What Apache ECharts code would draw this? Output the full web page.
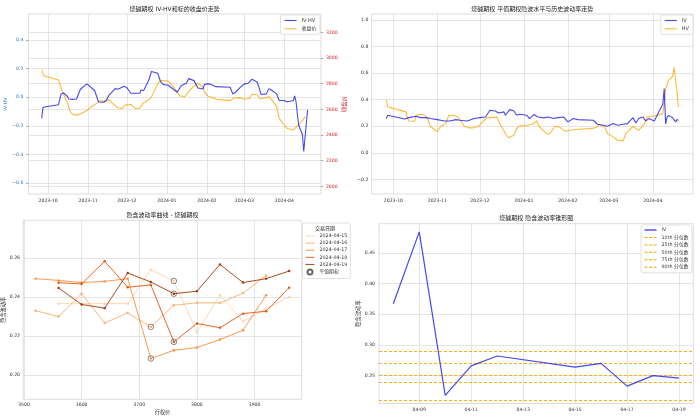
<!DOCTYPE html>
<html><head><meta charset="utf-8">
<script src="https://cdn.jsdelivr.net/npm/echarts@6/dist/echarts.min.js"></script>
<style>html,body{margin:0;padding:0;background:#fff}#c{width:700px;height:419px}</style>
</head><body><div id="c"></div>
<script>
// ---------- data ----------
const monthTicks = ['2023-10','2023-11','2023-12','2024-01','2024-02','2024-03','2024-04'];

const ivhvDates = ['2023-09-26','2023-09-27','2023-09-28','2023-10-09','2023-10-11','2023-10-13','2023-10-16','2023-10-17','2023-10-20','2023-10-23','2023-10-26','2023-10-31','2023-11-06','2023-11-09','2023-11-13','2023-11-15','2023-11-17','2023-11-22','2023-11-24','2023-11-29','2023-12-01','2023-12-04','2023-12-07','2023-12-11','2023-12-12','2023-12-14','2023-12-18','2023-12-20','2023-12-25','2023-12-27','2023-12-29','2024-01-02','2024-01-05','2024-01-09','2024-01-12','2024-01-16','2024-01-18','2024-01-22','2024-01-25','2024-01-29','2024-01-30','2024-02-02','2024-02-05','2024-02-08','2024-02-19','2024-02-21','2024-02-23','2024-02-27','2024-03-01','2024-03-04','2024-03-07','2024-03-11','2024-03-14','2024-03-18','2024-03-20','2024-03-22','2024-03-26','2024-03-28','2024-04-01','2024-04-03','2024-04-08','2024-04-09','2024-04-10','2024-04-12','2024-04-15','2024-04-16','2024-04-19'];
const ivhvValues = [-0.147,-0.07,-0.065,-0.053,0.023,0.030,0.005,-0.012,-0.015,-0.012,0.056,0.093,0.047,-0.033,-0.035,-0.023,0.012,0.060,0.056,0.077,0.067,0.028,0.028,0.028,0.050,0.047,0.120,0.180,0.167,0.110,0.090,0.084,0.063,0.035,0.080,0.098,0.130,0.116,0.065,0.058,0.088,0.095,0.086,0.074,0.070,0.023,0.033,0.070,0.093,0.098,0.126,0.105,0.019,0.023,0.060,0.050,0.023,-0.023,-0.023,-0.033,-0.023,0.010,-0.030,-0.193,-0.263,-0.380,-0.088];

const closeDates = ['2023-09-26','2023-09-27','2023-09-28','2023-10-09','2023-10-10','2023-10-12','2023-10-13','2023-10-16','2023-10-18','2023-10-20','2023-10-24','2023-10-27','2023-10-31','2023-11-03','2023-11-08','2023-11-10','2023-11-14','2023-11-17','2023-11-20','2023-11-24','2023-11-27','2023-11-30','2023-12-04','2023-12-06','2023-12-08','2023-12-11','2023-12-14','2023-12-18','2023-12-20','2023-12-22','2023-12-26','2023-12-28','2024-01-02','2024-01-04','2024-01-08','2024-01-11','2024-01-15','2024-01-19','2024-01-22','2024-01-25','2024-01-29','2024-01-30','2024-02-02','2024-02-05','2024-02-08','2024-02-19','2024-02-22','2024-02-27','2024-03-01','2024-03-05','2024-03-07','2024-03-11','2024-03-13','2024-03-18','2024-03-20','2024-03-22','2024-03-26','2024-03-28','2024-04-01','2024-04-03','2024-04-08','2024-04-09','2024-04-11','2024-04-15','2024-04-17'];
const closeValues = [2910,2880,2860,2829,2797,2738,2717,2650,2585,2560,2555,2569,2590,2616,2650,2668,2662,2676,2645,2612,2606,2635,2640,2620,2605,2610,2652,2675,2695,2740,2816,2825,2820,2800,2750,2705,2700,2751,2782,2803,2772,2738,2699,2694,2678,2668,2688,2691,2678,2686,2717,2714,2683,2691,2699,2678,2621,2530,2478,2452,2439,2426,2470,2512,2543];

const ivDates = ['2023-09-26','2023-09-27','2023-09-28','2023-10-09','2023-10-10','2023-10-12','2023-10-17','2023-10-20','2023-10-24','2023-10-27','2023-11-01','2023-11-06','2023-11-10','2023-11-14','2023-11-17','2023-11-22','2023-11-27','2023-12-01','2023-12-05','2023-12-08','2023-12-12','2023-12-14','2023-12-18','2023-12-19','2023-12-22','2023-12-25','2023-12-27','2023-12-29','2024-01-03','2024-01-05','2024-01-08','2024-01-11','2024-01-15','2024-01-18','2024-01-22','2024-01-25','2024-01-29','2024-02-01','2024-02-05','2024-02-08','2024-02-19','2024-02-20','2024-02-22','2024-02-26','2024-02-29','2024-03-04','2024-03-07','2024-03-11','2024-03-14','2024-03-18','2024-03-20','2024-03-22','2024-03-25','2024-03-27','2024-03-29','2024-04-02','2024-04-03','2024-04-08','2024-04-09','2024-04-10','2024-04-11','2024-04-12','2024-04-15','2024-04-16','2024-04-17','2024-04-18','2024-04-19'];
const ivValues = [0.258,0.283,0.283,0.255,0.250,0.265,0.275,0.265,0.265,0.258,0.250,0.240,0.240,0.250,0.245,0.240,0.258,0.265,0.270,0.320,0.315,0.300,0.308,0.283,0.325,0.315,0.283,0.290,0.283,0.258,0.288,0.270,0.263,0.270,0.258,0.265,0.270,0.233,0.258,0.250,0.245,0.233,0.215,0.208,0.200,0.220,0.208,0.215,0.220,0.265,0.225,0.258,0.270,0.240,0.258,0.240,0.233,0.367,0.484,0.218,0.266,0.282,0.264,0.270,0.233,0.250,0.246];

const hvDates = ['2023-09-26','2023-09-27','2023-09-28','2023-10-10','2023-10-11','2023-10-12','2023-10-16','2023-10-17','2023-10-20','2023-10-23','2023-10-25','2023-10-27','2023-11-01','2023-11-03','2023-11-07','2023-11-09','2023-11-13','2023-11-16','2023-11-20','2023-11-23','2023-11-27','2023-11-30','2023-12-04','2023-12-06','2023-12-08','2023-12-13','2023-12-15','2023-12-19','2023-12-21','2023-12-25','2023-12-27','2023-12-29','2024-01-03','2024-01-08','2024-01-10','2024-01-12','2024-01-17','2024-01-19','2024-01-23','2024-01-26','2024-01-30','2024-02-02','2024-02-08','2024-02-19','2024-02-21','2024-02-23','2024-02-27','2024-02-29','2024-03-04','2024-03-07','2024-03-11','2024-03-13','2024-03-18','2024-03-20','2024-03-22','2024-03-26','2024-03-28','2024-04-01','2024-04-03','2024-04-08','2024-04-09','2024-04-10','2024-04-11','2024-04-12','2024-04-15','2024-04-16','2024-04-17','2024-04-18','2024-04-19'];
const hvValues = [0.400,0.345,0.333,0.308,0.258,0.240,0.238,0.283,0.290,0.283,0.258,0.200,0.158,0.195,0.220,0.283,0.283,0.265,0.200,0.188,0.190,0.200,0.245,0.263,0.265,0.270,0.220,0.145,0.113,0.133,0.183,0.203,0.205,0.220,0.240,0.195,0.145,0.140,0.200,0.195,0.163,0.170,0.175,0.186,0.190,0.213,0.195,0.145,0.120,0.095,0.090,0.145,0.200,0.183,0.170,0.215,0.270,0.275,0.280,0.295,0.380,0.480,0.510,0.545,0.575,0.645,0.550,0.460,0.345];

const strikes = [3520,3560,3600,3640,3680,3720,3760,3800,3840,3880,3920,3960];
const smileDates = ['2024-04-15','2024-04-16','2024-04-17','2024-04-18','2024-04-19'];
const smile0415 = [null,0.2366,0.2366,0.2366,0.2366,0.2540,0.2482,0.2220,0.2410,0.2275,0.2340,0.2400];
const smile0416 = [0.2330,0.2300,0.2417,0.2267,0.2318,0.2247,0.2358,0.2370,0.2370,0.2420,0.2510,null];
const smile0417 = [0.2494,0.2485,0.2474,0.2480,0.2494,0.2085,0.2127,0.2141,0.2182,0.2230,0.2409,null];
const smile0418 = [null,0.2473,0.2467,0.2583,0.2450,0.2462,0.2170,0.2264,0.2243,0.2315,0.2327,0.2448];
const smile0419 = [null,0.2446,0.2362,0.2343,0.2523,0.2477,0.2417,0.2430,0.2567,0.2474,0.2494,0.2533];
const atmStrikes = [3760,3720,3720,3760,3760];
const atmIV = [0.2482,0.2247,0.2085,0.2170,0.2417];

const coneDates = ['04-08','04-09','04-10','04-11','04-12','04-15','04-16','04-17','04-18','04-19'];
const coneIV = [0.367,0.484,0.218,0.266,0.282,0.264,0.270,0.233,0.250,0.246];
const quantileNames = ['10th 分位数','25th 分位数','50th 分位数','75th 分位数','90th 分位数'];
const quantileValues = [0.2136,0.2380,0.2516,0.2700,0.2870];

const coneTicks = ['04-09','04-11','04-13','04-15','04-17','04-19'];
const tlLeftTicks = [-0.6,-0.4,-0.2,0.0,0.2,0.4];
const tlRightTicks = [2000,2200,2400,2600,2800,3000,3200];
const trTicks = [-0.2,0.0,0.2,0.4,0.6,0.8,1.0];
const blXTicks = [3500,3600,3700,3800,3900];
const blYTicks = [0.20,0.22,0.24,0.26];
const brYTicks = [0.25,0.30,0.35,0.40,0.45];

// ---------- helpers ----------
function d(s){const p=s.split('-').map(Number);return new Date(p[0],p[1]-1,p[2]||1).getTime();}
function md(s){return Number(s.split('-')[1]);}
const pairs=(xs,ys,fx)=>xs.map((x,i)=>[fx?fx(x):x,ys[i]]);
const t0=d(ivhvDates[0]), t1=d(ivhvDates[ivhvDates.length-1]);
const tPad=(t1-t0)*0.05;
const tMin=t0-tPad, tMax=t1+tPad;
const neg=(s)=>s.replace('-','\u2212');
const fmtMonth=v=>{const t=new Date(v);return t.getFullYear()+'-'+String(t.getMonth()+1).padStart(2,'0');};

const TF='DejaVu Sans, Noto Sans CJK SC';
const CJK='Noto Sans CJK SC, DejaVu Sans';
const GRIDC='#dedede';
const lblBase={fontSize:4.6,fontFamily:TF,color:'#333'};
const blue='rgba(20,20,235,0.78)', orange='rgba(255,165,0,0.78)';
const smileColors=['#fdd4ab','#fdae6b','#fd8d3c','#e6550d','#a63603'];
const smileSeries=[smile0415,smile0416,smile0417,smile0418,smile0419];
const LINE_ICON='path://M0 0H12V1.1H0Z';
const DASH_ICON='path://M0 0H3V1H0Z M4.5 0H7.5V1H4.5Z M9 0H12V1H9Z';

function gridBox(l,t,w,h){return {left:l,top:t,width:w,height:h,show:true,borderColor:'#d4d4d4',borderWidth:0.8,backgroundColor:'#fff',containLabel:false,outerBoundsMode:'none'};}
function split(){return {show:true,lineStyle:{color:GRIDC,width:0.8}};}
function legendBox(extra){return Object.assign({orient:'vertical',itemWidth:12,itemHeight:5,
  backgroundColor:'#fff',borderColor:'#d4d4d4',borderWidth:0.7,borderRadius:2,
  textStyle:{fontSize:5,fontFamily:TF,color:'#333',lineHeight:6}},extra);}

const option={
  animation:false,
  backgroundColor:'#fff',
  grid:[gridBox(28.4,14,292.5,180),gridBox(371.7,14,321.3,180),gridBox(23.3,220.3,278.4,179),gridBox(379,223.7,314.3,179.8)],
  xAxis:[
    {type:'value',gridIndex:0,min:tMin,max:tMax,axisLine:{show:false},
     axisTick:{show:false,customValues:monthTicks.map(d)},
     axisLabel:{...lblBase,margin:4.5,customValues:monthTicks.map(d),formatter:fmtMonth},splitLine:split()},
    {type:'value',gridIndex:1,min:tMin,max:tMax,axisLine:{show:false},
     axisTick:{show:false,customValues:monthTicks.map(d)},
     axisLabel:{...lblBase,margin:4.5,customValues:monthTicks.map(d),formatter:fmtMonth},splitLine:split()},
    {type:'value',gridIndex:2,min:3498.8,max:3981.8,axisLine:{show:false},
     axisTick:{show:false,customValues:blXTicks},
     axisLabel:{...lblBase,margin:3.4,customValues:blXTicks,formatter:v=>String(v)},splitLine:split(),
     name:'行权价',nameLocation:'middle',nameGap:10,nameTextStyle:{fontSize:5.2,fontFamily:CJK,color:'#333'}},
    {type:'value',gridIndex:3,min:md(coneDates[0])-0.55,max:md(coneDates[coneDates.length-1])+0.55,axisLine:{show:false},
     axisTick:{show:false,customValues:coneTicks.map(md)},
     axisLabel:{...lblBase,margin:3.6,customValues:coneTicks.map(md),formatter:v=>'04-'+String(v).padStart(2,'0')},splitLine:split()}
  ],
  yAxis:[
    {type:'value',gridIndex:0,min:-0.677,max:0.582,axisLine:{show:false},
     axisTick:{show:true,length:2.2,customValues:tlLeftTicks,lineStyle:{color:'#666',width:0.6}},
     axisLabel:{...lblBase,color:'#2a7ab8',margin:5,customValues:tlLeftTicks,formatter:v=>neg(v.toFixed(1))},splitLine:split(),
     name:'IV-HV',nameLocation:'middle',nameGap:16.5,nameTextStyle:{fontSize:5,fontFamily:TF,color:'#2a7ab8'}},
    {type:'value',gridIndex:0,position:'right',min:1940,max:3343,axisLine:{show:false},
     axisTick:{show:true,length:2.2,customValues:tlRightTicks,lineStyle:{color:'#666',width:0.6}},
     axisLabel:{...lblBase,color:'#d62728',margin:5,customValues:tlRightTicks,formatter:v=>String(v)},splitLine:split(),
     name:'收盘价',nameLocation:'middle',nameGap:18,nameTextStyle:{fontSize:5.3,fontFamily:CJK,color:'#d62728'}},
    {type:'value',gridIndex:1,min:-0.31,max:1.045,axisLine:{show:false},
     axisTick:{show:false,customValues:trTicks},
     axisLabel:{...lblBase,margin:3.4,customValues:trTicks,formatter:v=>neg(v.toFixed(1))},splitLine:split()},
    {type:'value',gridIndex:2,min:0.1876,max:0.2793,axisLine:{show:false},
     axisTick:{show:false,customValues:blYTicks},
     axisLabel:{...lblBase,margin:3.3,customValues:blYTicks,formatter:v=>v.toFixed(2)},splitLine:split(),
     name:'隐含波动率',nameLocation:'middle',nameGap:15.5,nameTextStyle:{fontSize:5.2,fontFamily:CJK,color:'#333'}},
    {type:'value',gridIndex:3,min:0.2047,max:0.4973,axisLine:{show:false},
     axisTick:{show:false,customValues:brYTicks},
     axisLabel:{...lblBase,margin:4,customValues:brYTicks,formatter:v=>v.toFixed(2)},splitLine:split(),
     name:'隐含波动率',nameLocation:'middle',nameGap:17.5,nameTextStyle:{fontSize:5.4,fontFamily:CJK,color:'#333'}}
  ],
  legend:[
    legendBox({data:[{name:'IV-HV',icon:LINE_ICON},{name:'收盘价',icon:LINE_ICON}],right:380,top:15,itemGap:2.3,padding:[2.5,3.5,2.5,4]}),
    legendBox({data:[{name:'IV',icon:LINE_ICON},{name:'HV',icon:LINE_ICON}],right:7,top:15,itemGap:2.3,padding:[2.5,4,2.5,4]}),
    legendBox({data:smileDates.map(n=>({name:n,icon:'path://M0 0H10V1H0Z'})).concat([{name:'平值期权',icon:'circle'}]),
     left:302.5,top:223,itemWidth:9,itemGap:1.1,padding:[10,3,3,3],
     textStyle:{fontSize:4.8,fontFamily:TF,color:'#333',lineHeight:6}}),
    legendBox({data:[{name:'IV',icon:'path://M0 0H12V1.4H0Z'}].concat(quantileNames.map(n=>({name:n,icon:DASH_ICON}))),
     right:8,top:225,itemGap:1.45,padding:[2,3.5,2.5,3.5],
     textStyle:{fontSize:4.8,fontFamily:TF,color:'#333',lineHeight:6}})
  ],
  graphic:[
    {type:'text',x:174.6,y:9,style:{text:'烧碱期权 IV-HV和标的收盘价走势',fontSize:6,fontFamily:TF,fill:'#222',align:'center',verticalAlign:'middle'}},
    {type:'text',x:532.3,y:9,style:{text:'烧碱期权 平值期权隐波水平与历史波动率走势',fontSize:6,fontFamily:TF,fill:'#222',align:'center',verticalAlign:'middle'}},
    {type:'text',x:162.5,y:215.5,style:{text:'隐含波动率曲线 - 烧碱期权',fontSize:6,fontFamily:TF,fill:'#222',align:'center',verticalAlign:'middle'}},
    {type:'text',x:536.2,y:218.5,style:{text:'烧碱期权 隐含波动率锥形图',fontSize:6,fontFamily:TF,fill:'#222',align:'center',verticalAlign:'middle'}},
    {type:'text',x:325,y:228.5,z:100,style:{text:'交易日期',fontSize:5,fontFamily:CJK,fill:'#222',align:'center',verticalAlign:'middle'}}
  ],
  series:[
    {name:'IV-HV',type:'line',xAxisIndex:0,yAxisIndex:0,symbol:'none',data:pairs(ivhvDates,ivhvValues,d),
     lineStyle:{color:blue,width:1.1},itemStyle:{color:blue},z:3},
    {name:'收盘价',type:'line',xAxisIndex:0,yAxisIndex:1,symbol:'none',data:pairs(closeDates,closeValues,d),
     lineStyle:{color:orange,width:1.1},itemStyle:{color:orange},z:2},
    {name:'IV',type:'line',xAxisIndex:1,yAxisIndex:2,symbol:'none',data:pairs(ivDates,ivValues,d),
     lineStyle:{color:blue,width:1.1},itemStyle:{color:blue},z:3},
    {name:'HV',type:'line',xAxisIndex:1,yAxisIndex:2,symbol:'none',data:pairs(hvDates,hvValues,d),
     lineStyle:{color:orange,width:1.1},itemStyle:{color:orange},z:2},
  ].concat(smileSeries.map((arr,k)=>({
     name:smileDates[k],type:'line',xAxisIndex:2,yAxisIndex:3,symbol:'circle',symbolSize:2.4,
     data:strikes.map((s,i)=>[s,arr[i]]).filter(p=>p[1]!==null),
     lineStyle:{color:smileColors[k],width:0.9},itemStyle:{color:smileColors[k]},z:3+k
  }))).concat([
    {name:'平值期权',type:'scatter',xAxisIndex:2,yAxisIndex:3,symbol:'circle',symbolSize:5.5,
     data:pairs(atmStrikes,atmIV),itemStyle:{color:'rgba(0,0,0,0)',borderColor:'#444',borderWidth:0.8},z:20},
    {name:'IV',type:'line',xAxisIndex:3,yAxisIndex:4,symbol:'none',data:pairs(coneDates,coneIV,md),
     lineStyle:{color:blue,width:1.2},itemStyle:{color:blue},z:5}
  ]).concat(quantileNames.map((n,k)=>({
     name:n,type:'line',xAxisIndex:3,yAxisIndex:4,symbol:'none',data:[],
     lineStyle:{color:'#ffa500',width:0.9,type:[3,2]},itemStyle:{color:'#ffa500'},
     markLine:{silent:true,symbol:'none',label:{show:false},
       lineStyle:{color:'#ffa500',width:0.9,type:[3,2]},data:[{yAxis:quantileValues[k]}]}
  })))
};
const chart=echarts.init(document.getElementById('c'),null,{renderer:'canvas'});
chart.setOption(option);
</script></body></html>
